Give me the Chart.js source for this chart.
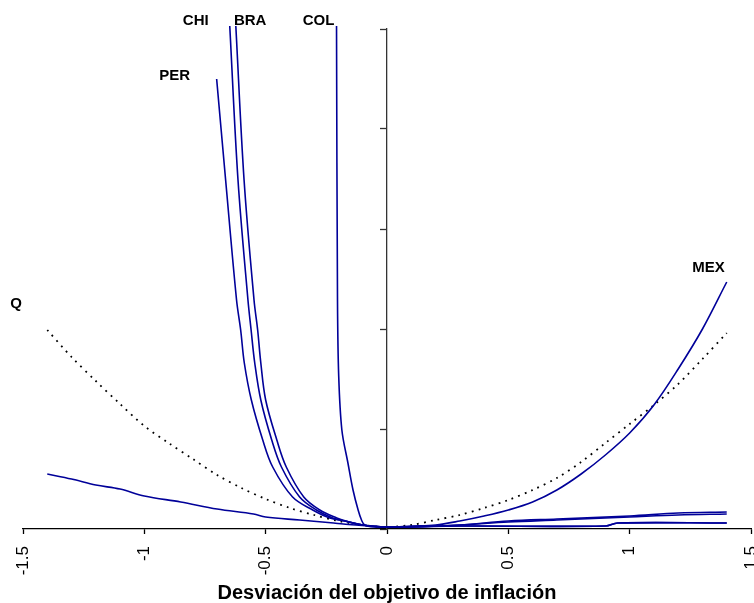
<!DOCTYPE html>
<html>
<head>
<meta charset="utf-8">
<script src="https://cdn.jsdelivr.net/npm/chart.js@4"></script>
<style>
  html, body { margin: 0; padding: 0; background: #fff; overflow: hidden; }
  #wrap { position: absolute; left: 0; top: 0; width: 754px; height: 605px; }
</style>
</head>
<body>
<div id="wrap"><canvas id="chart"></canvas></div>
<script>
// Curvas de pérdida por país (x = desviación, y = pérdida)
const chiX = [-0.648, -0.614, -0.573, -0.560, -0.545, -0.520, -0.475, -0.435, -0.360, -0.291, -0.224, -0.174, -0.1, 0, 0.1, 0.3, 0.5, 0.7, 1.0, 1.2, 1.4]
const chiY = [5.03, 3.49, 2.29, 1.99, 1.66, 1.29, 0.89, 0.62, 0.32, 0.19, 0.11, 0.08, 0.04, 0.02, 0.02, 0.04, 0.08, 0.10, 0.13, 0.16, 0.17]

const braX = [-0.623, -0.589, -0.548, -0.533, -0.520, -0.500, -0.454, -0.415, -0.343, -0.277, -0.207, -0.170, -0.1, 0, 0.1, 0.3, 0.5, 0.7, 1.0, 1.2, 1.4]
const braY = [5.03, 3.49, 2.29, 1.99, 1.66, 1.29, 0.89, 0.62, 0.32, 0.19, 0.11, 0.08, 0.04, 0.02, 0.02, 0.04, 0.07, 0.09, 0.12, 0.14, 0.15]

const perX = [-0.702, -0.665, -0.620, -0.603, -0.588, -0.559, -0.512, -0.471, -0.389, -0.306, -0.236, -0.174, -0.1, 0, 0.3, 0.9, 0.95, 1.4]
const perY = [4.50, 3.49, 2.29, 1.99, 1.66, 1.29, 0.89, 0.62, 0.32, 0.19, 0.11, 0.08, 0.04, 0.02, 0.03, 0.03, 0.06, 0.06]

const colX = [-0.208, -0.204, -0.199, -0.186, -0.161, -0.140, -0.119, -0.105, -0.092, -0.05, 0, 0.3, 0.9, 0.95, 1.4]
const colY = [5.03, 2.29, 1.53, 0.99, 0.66, 0.39, 0.19, 0.09, 0.04, 0.02, 0.02, 0.03, 0.03, 0.06, 0.06]

const mexX = [-1.4, -1.3, -1.2, -1.1, -1.0, -0.85, -0.7, -0.55, -0.5, -0.36, -0.22, -0.18, 0, 0.1, 0.2, 0.3, 0.4, 0.5, 0.6, 0.7, 0.8, 0.9, 1.0, 1.1, 1.2, 1.3, 1.4]
const mexY = [0.55, 0.50, 0.44, 0.40, 0.33, 0.27, 0.20, 0.15, 0.12, 0.09, 0.06, 0.05, 0.02, 0.03, 0.04, 0.08, 0.13, 0.19, 0.27, 0.39, 0.55, 0.74, 0.96, 1.24, 1.60, 2.00, 2.47]

// Q: pérdida cuadrática de referencia (línea punteada)
const qX = [-1.4, -1.3, -1.2, -1.1, -1.0, -0.9, -0.8, -0.7, -0.6, -0.5, -0.4, -0.3, -0.2, -0.1, 0, 0.1, 0.2, 0.3, 0.4, 0.5, 0.6, 0.7, 0.8, 0.9, 1.0, 1.1, 1.2, 1.3, 1.4]
const qY = [1.99, 1.72, 1.48, 1.25, 1.03, 0.86, 0.70, 0.54, 0.41, 0.30, 0.21, 0.14, 0.08, 0.04, 0.02, 0.04, 0.09, 0.14, 0.21, 0.29, 0.39, 0.51, 0.67, 0.86, 1.05, 1.24, 1.45, 1.70, 1.96]

const xTicks = [-1.5, -1, -0.5, 0, 0.5, 1, 1.5]

// Etiquetas de las curvas (coordenadas en unidades de datos)
const labelText = ['CHI', 'BRA', 'COL', 'PER', 'MEX', 'Q']
const labelX = [-0.788, -0.564, -0.282, -0.875, 1.325, -1.529]
const labelY = [5.08, 5.08, 5.08, 4.53, 2.61, 2.25]

const FONT = '"Liberation Sans", Arial, Helvetica, sans-serif'
const NAVY = '#000099'

const toPoints = (xs, ys) => xs.map((x, i) => ({ x: x, y: ys[i] }))

const lineSet = (label, xs, ys) => ({
  label: label,
  data: toPoints(xs, ys),
  borderColor: NAVY,
  borderWidth: 1.6,
  pointRadius: 0,
  tension: 0.35,
  fill: false,
  clip: false
})

const curveLabels = {
  id: 'curveLabels',
  afterDatasetsDraw(chart) {
    const { ctx, scales } = chart
    ctx.save()
    ctx.font = 'bold 15px ' + FONT
    ctx.fillStyle = '#000'
    ctx.textAlign = 'center'
    ctx.textBaseline = 'middle'
    labelText.forEach((t, i) => {
      ctx.fillText(t, scales.x.getPixelForValue(labelX[i]), scales.y.getPixelForValue(labelY[i]))
    })
    ctx.restore()
  }
}

const datasets = [
  lineSet('CHI', chiX, chiY),
  lineSet('BRA', braX, braY),
  lineSet('PER', perX, perY),
  lineSet('COL', colX, colY),
  lineSet('MEX', mexX, mexY),
  {
    label: 'Q',
    data: toPoints(qX, qY),
    borderColor: '#000',
    borderWidth: 1.8,
    borderDash: [1.8, 5.2],
    pointRadius: 0,
    tension: 0.3,
    fill: false,
    clip: false
  }
]

new Chart(document.getElementById('chart').getContext('2d'), {
  type: 'line',
  data: { datasets: datasets },
  options: {
    responsive: true,
    maintainAspectRatio: false,
    animation: false,
    layout: { padding: { top: 29, left: 23, right: 3, bottom: 0 } },
    plugins: {
      legend: { display: false },
      tooltip: { enabled: false }
    },
    scales: {
      x: {
        type: 'linear',
        min: -1.5,
        max: 1.5,
        position: 'bottom',
        afterBuildTicks: (axis) => { axis.ticks = xTicks.map(v => ({ value: v })) },
        // the rotated end labels may run off the canvas, as in the original
        afterFit: (axis) => {
          axis.paddingLeft = 0
          axis.paddingRight = 0
          axis.height = 76
        },
        ticks: {
          minRotation: 90,
          maxRotation: 90,
          padding: 12,
          color: '#000',
          autoSkip: false,
          font: { family: FONT, size: 17 },
          callback: (v) => String(v)
        },
        grid: { drawOnChartArea: false, tickLength: 5, tickColor: '#000', tickWidth: 1.3 },
        border: { color: '#000', width: 1.3 },
        title: {
          display: true,
          text: 'Desviación del objetivo de inflación',
          color: '#000',
          font: { family: FONT, size: 20, weight: 'bold' },
          padding: { top: 5, bottom: 0 }
        }
      },
      y: {
        type: 'linear',
        min: 0,
        max: 5,
        position: { x: 0 },
        ticks: { display: false, stepSize: 1 },
        grid: { drawOnChartArea: false, tickLength: 6, tickColor: '#333', tickWidth: 1.3 },
        border: { color: '#333', width: 1.3 }
      }
    }
  },
  plugins: [curveLabels]
})
</script>
</body>
</html>
